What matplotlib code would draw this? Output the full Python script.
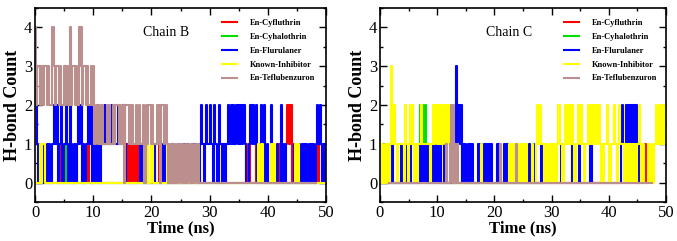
import matplotlib
matplotlib.use("Agg")
import matplotlib.pyplot as plt
from matplotlib.ticker import MultipleLocator

# H-bond count vs time (time in ns, count)
# ---- Chain B ----
b_cyfluthrin = [(0, 0), (4.4, 1), (4.6, 0), (7.0, 1), (7.2, 0), (9.0, 1), (9.2, 0), (10.4, 1), (10.6, 0),
                (15.4, 1), (15.6, 0), (15.8, 1), (16.0, 0), (16.2, 1), (16.5, 0), (16.7, 1), (16.9, 0),
                (17.1, 1), (17.4, 0), (17.6, 1), (17.9, 0), (18.1, 1), (18.4, 0), (18.6, 1), (18.9, 0),
                (21.3, 1), (21.5, 0), (25.2, 1), (25.4, 0), (36.3, 1), (36.5, 0), (36.7, 1), (37.0, 0),
                (38.0, 1), (38.2, 0), (42.0, 1), (42.2, 0), (43.0, 1), (43.3, 2), (43.6, 1), (43.9, 2),
                (44.2, 0), (48.6, 1), (48.8, 0), (50, 0)]
b_cyhalothrin = [(0, 0), (5.4, 1), (5.6, 0), (5.8, 1), (6.0, 0), (50, 0)]
b_flurulaner = [(0, 1), (0.2, 2), (0.4, 1), (0.6, 0), (0.8, 1), (1.0, 0), (1.3, 1), (1.5, 0), (2.0, 1),
                (2.2, 0), (2.4, 1), (2.6, 0), (3.0, 1), (3.2, 2), (3.5, 1), (3.7, 2), (3.9, 0), (4.2, 1),
                (4.5, 2), (4.7, 0), (5.0, 1), (5.3, 2), (5.5, 1), (5.7, 0), (6.0, 2), (6.2, 1), (6.4, 0),
                (6.7, 1), (6.9, 0), (7.2, 1), (7.4, 2), (7.6, 1), (7.8, 2), (8.0, 0), (8.3, 1), (8.5, 0),
                (8.8, 1), (9.1, 2), (9.3, 1), (9.6, 2), (9.8, 0), (10.1, 1), (10.4, 0), (10.6, 2),
                (10.8, 1), (11.0, 0), (11.3, 1), (12.0, 2), (12.1, 1), (13.2, 2), (13.3, 1), (14.3, 2),
                (14.4, 1), (15.2, 2), (15.4, 1), (15.6, 0), (18.1, 1), (18.3, 0), (20.2, 1), (20.4, 0),
                (20.6, 1), (20.7, 0), (22.0, 1), (22.3, 0), (23.5, 1), (23.7, 0), (24.5, 1), (24.7, 0),
                (25.6, 1), (25.8, 0), (26.2, 1), (26.5, 0), (27.0, 1), (27.3, 0), (27.5, 1), (27.8, 0),
                (28.4, 1), (28.5, 2), (28.7, 1), (29.0, 0), (29.2, 1), (29.4, 2), (29.6, 1), (30.0, 2),
                (30.2, 1), (30.5, 0), (30.8, 2), (31.0, 1), (31.3, 0), (31.6, 2), (31.8, 1), (32.1, 0),
                (32.3, 1), (32.6, 0), (32.8, 1), (33.2, 2), (33.4, 1), (33.6, 2), (33.8, 1), (34.0, 2),
                (34.2, 1), (34.6, 2), (34.8, 1), (35.0, 2), (35.2, 1), (35.4, 2), (35.6, 1), (35.8, 2),
                (36.0, 1), (36.2, 0), (36.8, 1), (37.0, 2), (37.2, 1), (37.5, 2), (37.7, 1), (38.0, 2),
                (38.2, 0), (38.6, 1), (38.8, 2), (39.0, 1), (39.3, 2), (39.5, 0), (39.8, 1), (40.0, 0),
                (40.5, 2), (40.7, 1), (41.0, 0), (41.5, 1), (41.7, 0), (42.2, 2), (42.4, 1), (42.6, 0),
                (43.0, 1), (43.2, 0), (44.5, 1), (44.7, 0), (45.0, 1), (45.2, 0), (45.4, 1), (45.6, 0),
                (45.8, 1), (46.0, 0), (46.2, 1), (46.4, 0), (46.6, 1), (46.8, 0), (47.0, 1), (47.2, 0),
                (47.4, 1), (47.6, 0), (47.8, 1), (48.0, 0), (48.3, 1), (48.5, 2), (48.7, 1), (48.9, 2),
                (49.1, 1), (49.3, 0), (49.5, 1), (49.7, 0), (49.9, 1), (50, 1)]
b_known = [(0, 0), (0.8, 1), (1.0, 0), (1.2, 1), (1.7, 0), (19.2, 1), (19.5, 0), (20.0, 1), (20.2, 0),
           (22.6, 1), (22.9, 0), (38.3, 1), (38.5, 0), (38.8, 1), (39.1, 0), (40.6, 1), (40.9, 0),
           (41.1, 1), (41.3, 0), (44.6, 1), (44.8, 0), (45.1, 1), (45.3, 0), (50, 0)]
b_teflubenzuron = [(0, 1), (0.05, 4), (0.25, 2), (0.4, 3), (0.9, 2), (1.1, 3), (1.3, 2), (1.5, 3),
                   (2.0, 2), (2.2, 3), (2.4, 2), (3.0, 4), (3.2, 3), (3.4, 2), (3.6, 3), (4.1, 2),
                   (4.3, 3), (4.5, 2), (5.0, 3), (5.2, 2), (5.4, 3), (5.6, 2), (6.0, 4), (6.2, 2),
                   (6.4, 3), (6.9, 2), (7.1, 3), (7.3, 2), (7.6, 4), (7.8, 3), (7.9, 4), (8.0, 2),
                   (8.2, 3), (8.7, 2), (8.9, 3), (9.1, 2), (9.6, 3), (9.8, 2), (10.0, 3), (10.2, 1),
                   (10.4, 2), (10.9, 1), (11.1, 2), (11.3, 1), (11.5, 2), (11.7, 1), (12.3, 2), (12.5, 1),
                   (12.7, 2), (12.9, 1), (13.4, 2), (13.6, 1), (13.8, 2), (14.4, 1), (14.6, 2), (14.8, 1),
                   (15.1, 2), (15.3, 0), (15.5, 2), (16.1, 1), (16.3, 2), (16.5, 1), (16.7, 2), (16.9, 1),
                   (17.4, 2), (17.6, 1), (17.8, 2), (18.0, 1), (18.6, 2), (18.8, 0), (19.0, 2), (19.2, 1),
                   (19.4, 2), (19.9, 1), (20.1, 2), (20.3, 1), (20.9, 2), (21.1, 1), (21.3, 2), (21.5, 0),
                   (21.7, 2), (22.2, 1), (22.4, 2), (22.6, 1), (22.8, 0), (23.0, 1), (23.2, 0),
                   (23.5, 1), (23.7, 0), (24.0, 1), (24.3, 0), (24.6, 1), (24.9, 0), (25.1, 1), (25.4, 0),
                   (25.7, 1), (26.0, 0), (26.3, 1), (26.6, 0), (26.9, 1), (27.2, 0), (27.5, 1), (27.8, 0),
                   (28.0, 1), (28.2, 0), (48.3, 0)]

# ---- Chain C ----
c_cyfluthrin = [(0, 0), (18.3, 1), (18.5, 0), (20.9, 1), (21.0, 0), (46.2, 1), (46.5, 0)]
c_cyhalothrin = [(0, 0), (6.9, 1), (7.0, 2), (7.2, 1), (7.4, 2), (7.6, 1), (7.8, 2), (8.0, 0),
                 (14.3, 1), (14.4, 0), (25.0, 1), (25.2, 0), (28.4, 1), (28.5, 0)]
c_flurulaner = [(0, 1), (0.2, 0), (0.3, 1), (0.5, 0), (0.6, 1), (0.8, 0), (2.0, 1), (2.2, 0), (3.6, 1),
                (3.8, 0), (4.0, 1), (4.2, 0), (4.6, 1), (4.7, 0), (5.3, 1), (5.5, 0), (7.0, 1), (7.2, 0),
                (7.4, 1), (7.6, 0), (7.8, 1), (8.0, 0), (8.2, 1), (8.5, 0), (9.1, 1), (9.3, 0), (9.5, 1),
                (9.6, 0), (10.0, 1), (10.2, 0), (10.4, 1), (10.6, 0), (11.2, 1), (11.4, 0), (13.3, 3),
                (13.5, 1), (13.7, 2), (13.9, 1), (14.1, 2), (14.3, 0), (14.5, 1), (14.7, 0), (14.9, 1),
                (15.1, 0), (15.3, 1), (15.5, 0), (15.7, 1), (15.9, 0), (16.1, 1), (16.3, 0), (17.2, 1),
                (17.4, 0), (17.6, 1), (17.8, 0), (18.2, 1), (18.4, 0), (18.6, 1), (18.8, 0), (19.0, 1),
                (19.2, 0), (19.4, 1), (19.5, 0), (20.4, 1), (20.6, 0), (20.8, 1), (21.0, 0), (21.6, 1),
                (21.8, 0), (22.0, 1), (22.2, 0), (22.4, 1), (22.6, 0), (26.0, 1), (26.2, 0), (26.8, 1),
                (27.0, 0), (28.1, 1), (28.3, 0), (28.5, 1), (28.6, 0), (31.6, 1), (31.9, 0), (33.5, 1),
                (33.7, 0), (34.8, 1), (35.0, 0), (36.8, 1), (37.0, 0), (42.1, 1), (42.3, 2), (42.5, 1),
                (42.6, 0), (42.8, 1), (43.0, 2), (43.3, 1), (43.5, 2), (43.7, 1), (43.9, 2), (44.1, 1),
                (44.3, 2), (44.5, 1), (44.8, 2), (45.0, 1), (45.2, 0), (45.3, 0)]
c_known = [(0, 1), (0.2, 0), (0.4, 1), (0.6, 0), (0.9, 1), (1.1, 0), (1.3, 1), (1.5, 0), (1.7, 1),
           (1.9, 3), (2.1, 1), (2.2, 2), (2.4, 1), (2.5, 2), (2.7, 1), (3.0, 0), (3.2, 1), (4.2, 0),
           (4.4, 2), (4.6, 1), (4.9, 0), (5.1, 1), (5.3, 2), (5.5, 1), (5.7, 2), (5.8, 1), (6.0, 0),
           (6.3, 1), (6.5, 0), (6.7, 1), (7.2, 2), (7.4, 1), (8.8, 0), (9.0, 1), (9.3, 2), (9.5, 1),
           (9.7, 2), (9.9, 1), (10.2, 2), (10.4, 1), (10.7, 2), (10.9, 1), (11.1, 2), (11.3, 1),
           (11.8, 2), (12.0, 1), (12.3, 2), (12.5, 1), (13.0, 0), (17.7, 1), (17.9, 0), (22.6, 1),
           (22.8, 0), (23.0, 1), (23.2, 0), (23.4, 1), (23.6, 0), (23.9, 1), (24.1, 0), (24.4, 1),
           (24.6, 0), (24.9, 1), (25.1, 0), (25.4, 1), (25.7, 0), (26.5, 1), (26.7, 0), (27.3, 1),
           (27.5, 2), (27.7, 1), (27.9, 2), (28.1, 1), (28.7, 0), (28.9, 1), (29.1, 0), (29.3, 1),
           (29.6, 0), (29.9, 1), (30.2, 0), (30.5, 1), (30.7, 0), (31.0, 1), (31.2, 2), (31.5, 1),
           (31.8, 0), (32.2, 1), (32.4, 2), (32.6, 1), (32.8, 2), (33.0, 1), (33.2, 2), (33.4, 1),
           (33.6, 2), (33.8, 1), (34.0, 0), (34.3, 1), (34.7, 2), (34.9, 1), (35.1, 2), (35.3, 1),
           (35.6, 0), (35.8, 1), (36.4, 2), (36.6, 1), (36.9, 2), (37.1, 1), (37.3, 2), (37.5, 1),
           (37.7, 2), (37.9, 1), (38.1, 2), (38.4, 1), (38.6, 0), (38.8, 1), (39.0, 0), (39.2, 1),
           (39.7, 2), (39.9, 1), (40.1, 0), (40.3, 1), (40.9, 2), (41.1, 1), (41.4, 0), (41.6, 1),
           (41.8, 2), (41.9, 1), (42.7, 0), (42.9, 1), (43.2, 0), (43.4, 1), (43.7, 0), (43.9, 1),
           (44.2, 0), (44.4, 1), (44.7, 0), (44.9, 1), (45.2, 2), (45.4, 1), (45.7, 0), (45.9, 1),
           (46.2, 0), (46.9, 1), (47.1, 0), (47.4, 1), (47.6, 0), (47.9, 1), (48.3, 2), (48.5, 1),
           (48.7, 2), (49.0, 1), (49.3, 2), (49.5, 1), (49.8, 2), (50, 2)]
c_teflubenzuron = [(1.5, 0), (11.5, 1), (11.7, 0), (12.2, 1), (12.3, 0), (12.4, 2), (12.6, 1),
                   (12.7, 0), (12.8, 2), (13.0, 1), (13.1, 0), (13.2, 1), (13.3, 0), (13.4, 1),
                   (13.5, 0), (13.6, 1), (13.7, 0), (21.0, 1), (21.1, 0), (23.8, 1), (24.0, 0), (47.6, 0)]

labels = ["En-Cyfluthrin", "En-Cyhalothrin", "En-Flurulaner", "Known-Inhibitor", "En-Teflubenzuron"]
colors = ["#ff0000", "#00e000", "#0000ff", "#ffff00", "#bc8f8f"]

chain_b = [b_cyfluthrin, b_cyhalothrin, b_flurulaner, b_known, b_teflubenzuron]
chain_c = [c_cyfluthrin, c_cyhalothrin, c_flurulaner, c_known, c_teflubenzuron]

plt.rcParams['font.family'] = ['Liberation Serif', 'DejaVu Serif']

fig = plt.figure(figsize=(6.77, 2.41), dpi=100)
ax_b = fig.add_axes([35 / 677, 39 / 241, 291 / 677, 194 / 241])
ax_c = fig.add_axes([380 / 677, 39 / 241, 286 / 677, 194 / 241])


def draw_panel(ax, series, title):
    for data, lab, col in zip(series, labels, colors):
        t = [p[0] for p in data]
        v = [p[1] for p in data]
        ax.step(t, v, where='post', color=col, lw=1.5, label=lab)

    ax.set_xlim(0, 50)
    ax.set_ylim(-0.5, 4.5)
    ax.xaxis.set_major_locator(MultipleLocator(10))
    ax.xaxis.set_minor_locator(MultipleLocator(5))
    ax.yaxis.set_major_locator(MultipleLocator(1))
    ax.yaxis.set_minor_locator(MultipleLocator(0.5))
    ax.tick_params(which='both', direction='in', top=True, right=True, width=1.0, labelsize=12, pad=2)
    ax.tick_params(which='major', length=5)
    ax.tick_params(which='minor', length=2.5)
    for sp in ax.spines.values():
        sp.set_linewidth(1.2)

    ax.set_xlabel("Time (ns)", fontsize=12, fontweight='bold', labelpad=0)
    ax.set_ylabel("H-bond Count", fontsize=13, fontweight='bold', labelpad=2)
    ax.text(18.5, 3.88, title, fontsize=10, va='center', ha='left')

    leg = ax.legend(loc='upper left', bbox_to_anchor=(0.63, 0.96), frameon=False,
                    prop={'size': 6, 'weight': 'bold'}, handlelength=1.9, handletextpad=1.5,
                    labelspacing=0.7, borderaxespad=0)
    for line in leg.get_lines():
        line.set_linewidth(1.5)


draw_panel(ax_b, chain_b, "Chain B")
draw_panel(ax_c, chain_c, "Chain C")

fig.savefig("out.png", dpi=100)
